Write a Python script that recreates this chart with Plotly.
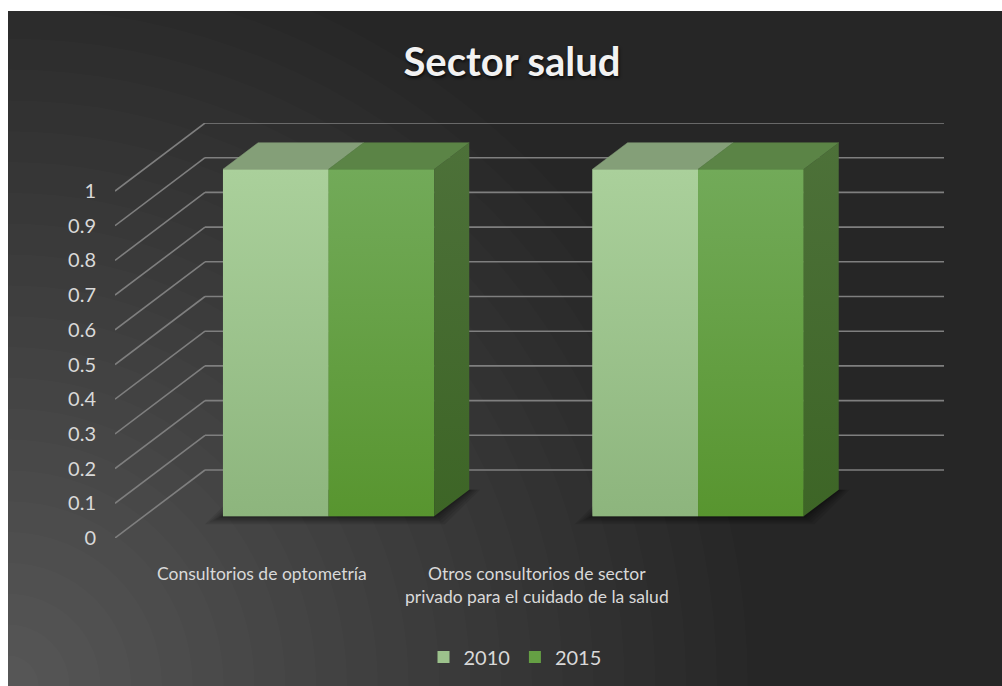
import plotly.graph_objects as go

# ---- data -------------------------------------------------------------
categories = [
    "Consultorios de optometría",
    "Otros consultorios de sector<br>privado para el cuidado de la salud",
]
series_names = ["2010", "2015"]
values_2010 = [1, 1]
values_2015 = [1, 1]
y_ticks = [0, 0.1, 0.2, 0.3, 0.4, 0.5, 0.6, 0.7, 0.8, 0.9, 1]
y_tick_text = ["0", "0.1", "0.2", "0.3", "0.4", "0.5", "0.6", "0.7", "0.8", "0.9", "1"]

# ---- styling ------------------------------------------------------------
W, H = 1002, 686
ML, MR, MT, MB = 115, 58, 123, 148
PLOT_W = W - ML - MR
PLOT_H = H - MT - MB

FONT = "Lato, 'Open Sans', sans-serif"
TEXT_COLOR = "#D9D9D9"
GRID_COLOR = "#7F7F7F"

front_top = ["#AAD09B", "#72AA59"]
front_bottom = ["#8DB57D", "#58952F"]
front_mid = ["#9CC28C", "#659F44"]
top_color = ["#849F78", "#5B8446"]
side_top = "#4D7139"
side_bottom = "#3D6526"

# oblique 3-D projection, expressed in axis units
DX = 0.2436          # full floor depth, along x (category units)
DY = 0.196           # full floor depth, along y (value units)
F0, F1 = 0.32, 0.71  # depth of bar front / back face as a fraction of floor depth
BAR_W = 1 / 3.5      # gap width 150 %

n_cat = len(categories)
x_min, x_max = -0.5, n_cat - 0.5 + DX
y_max = max(y_ticks) + DY
px_x = PLOT_W / (x_max - x_min)
px_y = PLOT_H / y_max


def paper_x(px):
    return (px - ML) / PLOT_W


def paper_y(py):
    return (H - MB - py) / PLOT_H


fig = go.Figure()

# ---- background: dark panel with a radial glow in the lower-left --------
shapes = []
cx, cy = 8, 686
rings = 24
for k in range(rings):
    r = 740 * (1 - k / rings)
    shapes.append(dict(
        type="circle", xref="paper", yref="paper", layer="below",
        x0=paper_x(cx - r), x1=paper_x(cx + r),
        y0=paper_y(cy + r), y1=paper_y(cy - r),
        fillcolor="rgba(255,255,255,0.012)", line=dict(width=0),
    ))

# ---- walls: diagonal floor-side lines + horizontal back-wall lines ------
for v in y_ticks:
    shapes.append(dict(type="line", xref="x", yref="y", layer="below",
                       x0=x_min, y0=v, x1=x_min + DX, y1=v + DY,
                       line=dict(color=GRID_COLOR, width=1.6)))
    shapes.append(dict(type="line", xref="x", yref="y", layer="below",
                       x0=x_min + DX, y0=v + DY, x1=x_max, y1=v + DY,
                       line=dict(color=GRID_COLOR, width=1.6)))

# white frame around the chart panel
shapes.append(dict(type="rect", xref="paper", yref="paper", layer="above",
                   x0=paper_x(-5), x1=paper_x(8), y0=paper_y(H + 5), y1=paper_y(-5),
                   fillcolor="white", line=dict(width=0)))
shapes.append(dict(type="rect", xref="paper", yref="paper", layer="above",
                   x0=paper_x(-5), x1=paper_x(W + 5), y0=paper_y(11), y1=paper_y(-5),
                   fillcolor="white", line=dict(width=0)))

series_values = [values_2010, values_2015]
n_ser = len(series_names)
base = F0 * DY
ddx = (F1 - F0) * DX
ddy = (F1 - F0) * DY

# ---- soft floor shadow under each bar group ----------------------------
for i in range(n_cat):
    gx0 = i - BAR_W * n_ser / 2 + F0 * DX
    gx1 = i + BAR_W * n_ser / 2 + F0 * DX
    for grow in (18, 14, 10, 7, 4, 2):
        ex, ey = grow / px_x, grow / px_y * 0.45
        xs = [gx0 - ex, gx1 + ex * 0.6, gx1 + ddx + ex * 0.6, gx0 + ddx - ex, gx0 - ex]
        ys = [base - ey, base - ey, base + ddy, base + ddy, base - ey]
        fig.add_trace(go.Scatter(x=xs, y=ys, fill="toself", mode="none",
                                 fillcolor="rgba(0,0,0,0.09)",
                                 showlegend=False, hoverinfo="skip"))

# ---- bars: front faces --------------------------------------------------
for s in range(n_ser):
    centers = [i - BAR_W * n_ser / 2 + BAR_W * (s + 0.5) + F0 * DX for i in range(n_cat)]
    fig.add_trace(go.Bar(
        x=centers, y=series_values[s], base=base, width=BAR_W,
        name=series_names[s], marker=dict(color=front_mid[s], line=dict(width=0)),
        hoverinfo="skip",
    ))

# gradient shading, top and side faces
for i in range(n_cat):
    for s in range(n_ser):
        v = series_values[s][i]
        xl = i - BAR_W * n_ser / 2 + BAR_W * s + F0 * DX
        xr = xl + BAR_W
        top = base + v
        fig.add_trace(go.Scatter(
            x=[xl, xr, xr, xl, xl], y=[base, base, top, top, base],
            fill="toself", mode="none",
            fillgradient=dict(type="vertical", start=base, stop=top,
                              colorscale=[[0, front_bottom[s]], [1, front_top[s]]]),
            showlegend=False, hoverinfo="skip"))
        fig.add_trace(go.Scatter(
            x=[xl, xr, xr + ddx, xl + ddx, xl], y=[top, top, top + ddy, top + ddy, top],
            fill="toself", mode="lines", line=dict(color=top_color[s], width=0.5),
            fillcolor=top_color[s], showlegend=False, hoverinfo="skip"))
        if s == n_ser - 1:
            fig.add_trace(go.Scatter(
                x=[xr, xr + ddx, xr + ddx, xr, xr],
                y=[base, base + ddy, top + ddy, top, base],
                fill="toself", mode="none",
                fillgradient=dict(type="vertical", start=base, stop=top + ddy,
                                  colorscale=[[0, side_bottom], [1, side_top]]),
                showlegend=False, hoverinfo="skip"))

# ---- category labels -----------------------------------------------------
label_px = [262, 537]
annotations = []
for i, cat in enumerate(categories):
    annotations.append(dict(
        text=cat, xref="paper", yref="paper",
        x=paper_x(label_px[i]), y=paper_y(561),
        xanchor="center", yanchor="top", showarrow=False, align="center",
        font=dict(family=FONT, size=17.5, color=TEXT_COLOR),
    ))

fig.update_layout(
    width=W, height=H,
    margin=dict(l=ML, r=MR, t=MT, b=MB, pad=0),
    paper_bgcolor="#262626",
    plot_bgcolor="rgba(0,0,0,0)",
    barmode="overlay",
    title=dict(text="<b>Sector salud</b>", xref="container", yref="container",
               x=512 / W, y=1 - 62 / H, xanchor="center", yanchor="middle",
               font=dict(family=FONT, size=40, color="#F2F2F2",
                         shadow="1px 2px 3px rgba(0,0,0,0.7)")),
    xaxis=dict(range=[x_min, x_max], visible=False, fixedrange=True),
    yaxis=dict(range=[0, y_max], tickvals=y_ticks, ticktext=y_tick_text,
               showgrid=False, zeroline=False, showline=False, ticks="",
               ticklabelstandoff=18,
               tickfont=dict(family=FONT, size=20, color=TEXT_COLOR),
               fixedrange=True),
    legend=dict(orientation="h", xref="container", yref="container",
                x=515 / W, y=1 - 657 / H, xanchor="center", yanchor="middle",
                font=dict(family=FONT, size=20, color=TEXT_COLOR),
                bgcolor="rgba(0,0,0,0)", itemwidth=30, traceorder="normal"),
    shapes=shapes,
    annotations=annotations,
    showlegend=True,
)

fig.write_html("out.html")
